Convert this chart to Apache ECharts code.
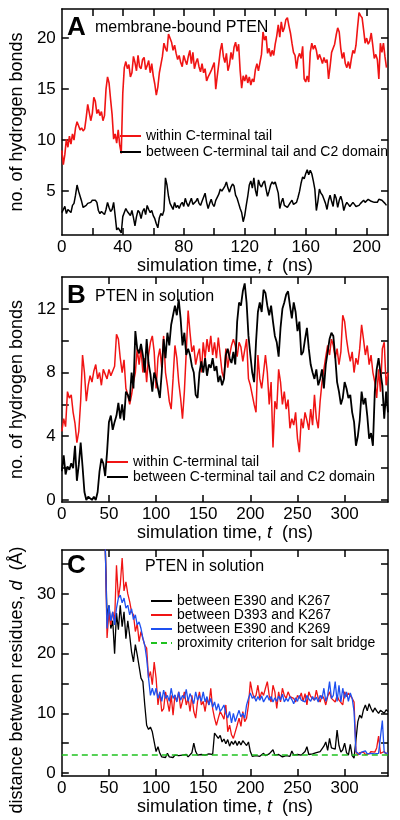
<!DOCTYPE html>
<html><head><meta charset="utf-8">
<script src="https://cdn.jsdelivr.net/npm/echarts@6/dist/echarts.min.js"></script>
<style>html,body{margin:0;padding:0;background:#fff}#c{width:400px;height:820px}</style>
</head><body><div id="c"></div>
<script>
// ---------- Panel A: membrane-bound PTEN (t = 0..213 ns, 1 ns step) ----------
var aStart = 0, aStep = 1;
var aWithin = [
9.0,7.6,8.6,10.1,9.3,10.4,9.6,10.6,10.0,11.2,
11.8,11.4,11.0,11.2,10.9,11.1,12.2,13.5,13.4,11.9,
12.6,14.2,13.8,12.6,13.0,12.4,12.8,11.9,12.4,15.0,
16.2,15.6,14.0,12.5,10.1,10.6,9.7,11.0,9.5,8.7,
14.6,17.1,17.7,17.0,17.4,16.2,16.6,18.2,17.6,16.8,
18.3,17.2,17.0,17.9,18.1,16.9,17.3,17.8,16.6,17.5,
16.3,15.5,14.4,15.2,16.6,17.4,18.2,19.5,19.0,18.7,
20.4,20.5,19.6,18.8,19.3,18.5,17.9,18.3,17.6,17.2,
18.3,17.8,17.4,18.2,18.8,17.5,18.6,17.0,17.6,18.0,
17.2,16.7,17.5,16.6,17.0,15.8,16.2,16.5,16.8,17.2,
17.6,15.0,16.3,17.5,18.8,19.5,18.2,17.6,18.5,16.8,
17.4,18.6,17.9,19.1,19.6,18.7,19.4,16.8,15.1,16.3,
15.8,16.4,15.6,16.2,15.4,16.0,15.7,16.9,17.5,16.8,
17.6,18.4,20.6,19.8,20.2,18.5,19.0,18.2,18.8,18.3,
19.4,20.2,21.3,20.1,21.6,20.6,21.0,21.8,22.0,21.2,
20.5,19.5,18.6,18.3,17.0,18.1,18.5,18.0,19.2,16.0,
15.7,16.3,15.7,18.6,19.5,18.9,19.3,18.8,17.9,18.4,
18.0,17.5,18.1,17.6,17.9,16.0,17.2,18.6,18.5,19.4,
20.3,21.0,20.6,19.0,18.0,18.6,17.5,17.1,17.7,17.0,
18.0,18.8,18.5,19.3,21.0,22.5,22.2,22.0,20.8,19.5,
20.0,19.4,19.7,20.5,19.3,18.0,18.4,17.9,16.0,19.5,
18.6,19.5,18.2,17.1];
var aBetween = [
2.9,3.0,3.5,2.8,3.2,3.3,2.9,3.6,3.8,4.6,
5.6,5.0,4.5,4.0,3.4,3.3,3.6,3.8,3.7,3.9,
4.1,4.0,4.1,3.9,3.1,2.8,3.0,2.9,2.7,3.2,
3.9,3.4,3.0,3.2,3.9,2.6,1.2,1.4,1.25,0.9,
2.5,2.9,3.3,3.0,2.8,2.6,3.1,2.4,1.6,2.5,
3.1,2.9,2.3,3.0,3.3,2.7,3.6,3.2,2.9,3.1,
2.6,2.3,1.8,1.4,2.4,2.8,2.6,3.1,6.3,5.6,
4.5,3.8,3.5,3.2,3.9,3.4,3.6,3.3,3.7,3.9,
3.5,4.3,3.8,3.5,3.9,4.3,3.7,3.6,4.0,4.3,
3.8,3.6,4.0,4.4,4.8,3.9,3.3,3.8,4.2,3.7,
3.5,4.1,4.2,4.7,5.2,5.0,5.1,5.5,5.9,5.3,
4.9,5.4,5.7,5.5,4.6,4.3,3.8,3.3,2.9,2.0,
2.6,3.6,4.5,5.6,6.0,5.3,6.3,5.1,4.5,6.1,
5.6,5.4,5.8,6.0,5.2,4.5,5.0,5.6,5.9,5.7,
5.9,6.0,4.8,3.3,3.9,4.3,3.6,3.6,3.4,3.3,
3.9,4.1,3.7,3.6,3.9,4.4,5.0,5.8,6.4,6.2,
6.7,7.1,6.6,7.05,6.7,6.0,5.2,3.1,4.0,5.2,
4.8,4.6,4.2,3.8,3.2,4.1,4.6,4.0,3.5,4.7,
4.3,3.4,4.1,4.5,4.0,3.1,3.6,3.9,3.7,3.5,
3.6,3.9,3.7,3.5,3.4,3.6,3.8,3.9,4.1,3.9,
3.9,4.2,4.3,4.0,4.1,3.9,4.0,3.9,4.2,4.3,
4.1,4.1,3.8,3.6];

// ---------- Panel B: PTEN in solution (t = 0..346 ns, 2 ns step) ----------
var bStart = 0, bStep = 2;
var bWithin = [
4.3,5.1,4.6,6.8,6.4,6.6,5.5,4.8,3.6,4.3,
6.2,9.1,8.0,6.2,7.2,7.8,7.4,8.1,8.5,7.6,
8.0,7.2,8.2,7.9,7.6,8.2,7.8,8.1,8.4,10.4,
10.1,8.9,8.0,8.8,7.0,6.6,6.0,6.6,7.4,8.0,
9.5,8.5,9.5,8.0,8.9,7.4,9.1,9.9,10.3,9.3,
7.0,8.9,9.5,8.3,10.3,8.0,7.2,6.2,5.7,7.6,
9.7,8.9,7.4,6.4,5.1,6.8,9.3,11.9,10.5,9.3,
9.7,8.5,9.1,9.5,8.0,9.9,8.9,10.1,9.3,10.3,
9.1,9.9,8.9,10.2,9.1,8.0,7.6,9.5,8.3,9.1,
9.7,10.1,9.7,9.0,9.9,9.6,8.7,9.4,10.1,7.6,
7.2,6.6,6.0,5.5,9.1,7.6,7.0,8.0,9.1,8.0,
6.0,7.4,3.3,6.2,5.7,8.2,7.4,6.0,6.8,5.7,
6.3,4.5,5.1,4.7,5.5,3.85,3.0,5.1,4.5,5.5,
5.0,4.4,5.7,4.7,6.6,5.1,4.5,6.2,7.4,8.2,
9.0,9.7,9.1,10.1,9.7,8.9,9.5,8.5,9.3,11.6,
11.2,10.1,9.3,8.7,9.3,8.0,8.9,8.5,9.5,11.0,
10.1,9.1,9.7,8.5,9.1,8.0,7.4,6.4,8.2,6.8,
9.5,9.9,7.2,8.0];
var bBetween = [
1.8,2.8,1.6,2.1,1.9,2.3,2.0,3.4,1.2,2.2,
3.6,2.1,0.5,0.0,0.2,0.3,0.0,0.2,0.0,0.5,
1.8,2.6,2.3,1.5,3.0,4.9,5.3,4.4,4.9,5.3,
6.1,5.1,6.0,5.0,6.8,6.6,6.2,8.0,7.0,10.6,
9.5,9.2,9.8,9.1,8.0,10.1,8.6,7.9,6.8,8.0,
7.6,7.0,6.4,8.0,10.1,8.9,10.5,9.7,11.0,11.6,
12.2,11.6,12.6,11.4,9.7,10.5,9.1,9.5,9.1,8.4,
8.0,6.6,6.4,8.0,8.7,8.0,8.9,7.8,8.5,8.3,
8.9,8.1,8.4,7.4,7.8,7.2,7.6,9.1,9.5,8.9,
8.6,9.3,8.5,11.2,12.4,12.2,13.1,13.6,12.4,10.3,
9.1,8.0,7.4,9.9,11.8,12.4,11.8,13.2,13.0,12.2,
11.6,12.2,11.2,10.3,9.9,9.0,10.8,12.0,12.4,12.9,
13.1,12.2,11.4,12.4,11.8,10.6,11.2,9.1,9.3,10.1,
10.8,9.5,8.5,8.0,7.6,8.2,7.2,7.6,8.2,7.0,
8.5,9.3,10.1,10.5,10.3,9.0,7.4,6.8,6.0,6.4,
7.4,7.0,6.4,6.6,5.5,4.9,3.4,4.0,5.0,6.8,
6.0,6.4,5.3,3.85,4.2,3.4,6.8,8.2,8.9,8.0,
7.2,5.1,6.8,5.5];

// ---------- Panel C: residue distances (t = 46..346 ns, 2 ns step) ----------
var cStart = 46, cStep = 2;
var cE390K267 = [
38.5,26.0,28.1,24.2,25.5,20.0,26.8,24.0,28.1,24.5,
27.0,22.5,25.5,23.0,20.3,18.6,21.5,19.8,19.7,15.9,
15.3,11.4,8.0,7.3,7.7,6.9,5.2,3.6,4.4,3.3,
2.7,2.9,2.6,3.3,2.7,2.8,2.6,3.0,2.7,2.9,
2.6,3.0,2.8,3.1,2.7,3.0,3.4,5.0,3.6,3.0,
2.8,3.1,2.8,3.0,2.9,3.2,3.0,3.1,6.7,6.9,
5.8,6.3,5.2,5.7,4.9,5.6,4.5,5.3,4.8,5.4,
4.6,5.3,4.7,5.4,5.0,4.6,5.2,3.6,2.8,3.0,
2.9,3.1,2.8,3.0,3.3,2.9,2.8,3.2,3.0,3.9,
3.0,2.8,3.1,2.9,2.7,3.0,2.9,3.2,2.8,3.7,
3.0,2.9,3.1,2.8,3.0,3.2,3.6,4.4,3.1,2.9,
3.2,3.0,3.4,3.2,3.6,3.3,4.5,5.2,3.8,5.8,
4.2,3.9,4.0,7.2,4.6,3.5,3.9,5.0,3.4,3.0,
4.8,2.9,2.5,2.6,8.6,9.7,9.2,10.6,11.4,10.4,
11.6,10.8,10.2,10.9,10.4,10.0,10.5,10.8,10.0,10.6,
10.3];
var cD393K267 = [
39.0,22.6,27.0,24.8,27.0,25.5,34.8,29.3,31.5,36.0,
30.5,32.0,30.0,28.7,27.0,26.5,23.7,25.0,22.0,23.7,
22.5,21.4,20.9,15.9,17.0,14.8,18.6,15.9,11.4,13.6,
10.3,10.8,13.6,12.0,10.3,13.0,9.7,13.0,12.0,13.6,
10.8,12.0,13.6,11.4,12.5,10.3,13.0,10.3,9.2,12.0,
13.6,11.4,12.0,10.3,12.5,11.4,14.2,10.8,9.2,8.0,
9.2,10.3,9.7,9.0,11.4,6.9,8.0,6.4,5.8,6.9,
8.0,9.2,7.8,10.3,8.6,9.2,11.4,15.3,13.6,12.5,
13.0,14.7,12.5,13.6,13.0,14.2,15.3,13.0,11.9,14.7,
13.6,10.8,13.6,11.9,14.2,13.0,12.5,13.6,12.8,13.0,
12.5,11.9,13.0,12.5,13.4,12.0,13.3,11.4,13.6,12.8,
13.0,12.2,13.9,12.5,11.9,13.0,12.5,11.4,12.8,13.6,
12.5,12.6,11.9,13.0,12.2,12.5,11.4,13.6,12.8,13.4,
13.2,12.5,11.9,3.6,3.0,3.4,3.2,3.5,3.1,3.4,
3.2,3.6,3.3,3.5,4.2,6.2,3.3,3.1,3.6,3.2,
3.3];
var cE390K269 = [
38.5,24.2,28.1,25.5,27.0,24.8,27.6,29.3,29.8,28.5,
29.3,27.6,28.1,26.5,27.5,25.7,26.5,24.8,25.3,24.2,
22.6,21.4,19.2,15.9,13.0,14.2,13.0,14.2,12.5,13.6,
12.0,13.9,12.5,13.0,12.0,14.2,12.5,13.1,11.9,13.6,
12.2,13.0,12.5,14.0,12.0,13.3,12.5,11.6,13.6,12.2,
13.0,12.0,13.6,11.9,12.8,11.4,12.5,11.0,11.9,10.5,
11.6,10.3,10.8,11.4,10.0,9.2,10.3,8.4,10.0,8.6,
9.6,10.5,9.4,10.0,9.2,11.4,12.5,13.4,12.5,12.9,
12.0,12.8,12.2,12.9,11.9,12.5,13.0,12.2,12.8,11.9,
12.6,12.0,12.9,12.2,13.2,11.9,12.5,12.0,12.8,12.3,
11.6,12.6,12.0,13.0,12.2,12.5,11.9,13.0,12.4,12.0,
12.8,12.2,12.7,11.9,13.0,12.4,14.2,12.0,13.0,15.3,
12.5,13.0,15.3,12.0,14.7,11.9,14.2,12.5,13.6,12.0,
13.4,12.5,10.3,3.6,3.3,3.1,3.5,3.4,3.7,3.2,
3.5,3.3,3.6,3.2,3.4,3.3,3.1,8.8,3.4,3.6,
3.3];
var cCriterion = 3.0;          // salt-bridge proximity criterion (Å)
var cCriterionSpan = [0, 346]; // time span (ns)

// ---------- axis ranges & ticks ----------
var aX = {min: 0, max: 214}, aY = {min: 0.7, max: 22.85};
var bX = {min: 0, max: 346}, bY = {min: -0.13, max: 14.0};
var cX = {min: 0, max: 346}, cY = {min: -0.5, max: 37.35};
var aXTicks = [20,40,60,80,100,120,140,160,180,200];
var aXLabels = [0,40,80,120,160,200];
var aYTicks = [5,10,15,20], aYLabels = [5,10,15,20];
var bXTicks = [50,100,150,200,250,300], bXLabels = [0,50,100,150,200,250,300];
var bYTicks = [0,2,4,6,8,10,12], bYLabels = [0,4,8,12];
var cXTicks = [50,100,150,200,250,300], cXLabels = [0,50,100,150,200,250,300];
var cYTicks = [0,5,10,15,20,25,30,35], cYLabels = [0,10,20,30];

var nameWithin = 'within C-terminal tail';
var nameBetween = 'between C-terminal tail and C2 domain';
var nameC1 = 'between E390 and K267', nameC2 = 'between D393 and K267',
    nameC3 = 'between E390 and K269', nameC4 = 'proximity criterion for salt bridge';

var RED = '#f01414', BLACK = '#000000', BLUE = '#1e50f0', GREEN = '#1fc21f';
var FONT = '"Liberation Sans", Arial, Helvetica, sans-serif';

function pairs(t0, step, vals) { return vals.map(function (v, i) { return [t0 + i * step, v]; }); }

var grids = [
  {left: 53, right: 12, top: 9, height: 226},
  {left: 53, right: 12, top: 277, height: 225},
  {left: 53, right: 12, top: 550, height: 226}
];

var lineAxis = {show: true, onZero: false, lineStyle: {color: '#000', width: 1.5}};
function tick(vals) { return {show: true, inside: true, length: 7, customValues: vals, lineStyle: {color: '#000', width: 1.5}}; }
function lab(vals, m) { return {show: true, customValues: vals, color: '#000', fontSize: 17, fontFamily: FONT, margin: m}; }
var nameStyle = {color: '#000', fontSize: 18, fontFamily: FONT, rich: {i: {fontStyle: 'italic', fontSize: 18, fontFamily: FONT, color: '#000'}}};

function xPair(g, rng, ticks, labels, gap) {
  return [
    {type: 'value', gridIndex: g, min: rng.min, max: rng.max, position: 'bottom', axisLine: lineAxis,
     axisTick: tick(ticks), axisLabel: lab(labels, 4), splitLine: {show: false},
     name: 'simulation time, {i|t}  (ns)', nameLocation: 'middle', nameGap: gap, nameTextStyle: nameStyle},
    {type: 'value', gridIndex: g, min: rng.min, max: rng.max, position: 'top', axisLine: lineAxis,
     axisTick: tick(ticks), axisLabel: {show: false}, splitLine: {show: false}}
  ];
}
function yPair(g, rng, ticks, labels, name, gap, pad) {
  return [
    {type: 'value', gridIndex: g, min: rng.min, max: rng.max, position: 'left', axisLine: lineAxis,
     axisTick: tick(ticks), axisLabel: lab(labels, 6), splitLine: {show: false},
     name: name, nameLocation: 'middle', nameGap: gap,
     nameTextStyle: Object.assign({}, nameStyle, {padding: pad || 0})},
    {type: 'value', gridIndex: g, min: rng.min, max: rng.max, position: 'right', axisLine: lineAxis,
     axisTick: tick(ticks), axisLabel: {show: false}, splitLine: {show: false}}
  ];
}

var xAxes = [].concat(xPair(0, aX, aXTicks, aXLabels, 18), xPair(1, bX, bXTicks, bXLabels, 20), xPair(2, cX, cXTicks, cXLabels, 19));
var yAxes = [].concat(
  yPair(0, aY, aYTicks, aYLabels, 'no. of hydrogen bonds', 24),
  yPair(1, bY, bYTicks, bYLabels, 'no. of hydrogen bonds', 24),
  yPair(2, cY, cYTicks, cYLabels, 'distance between residues, {i|d}  (Å)', 24, [0, 34, 0, 0])
);

function ln(name, xi, yi, data, color, width, dashed) {
  return {name: name, type: 'line', xAxisIndex: xi, yAxisIndex: yi, data: data,
    showSymbol: false, symbol: 'none', animation: false, clip: true,
    lineStyle: {color: color, width: width, type: dashed ? [6, 4] : 'solid'},
    itemStyle: {color: color}, emphasis: {disabled: true}};
}

var series = [
  ln(nameWithin, 0, 0, pairs(aStart, aStep, aWithin), RED, 1.6),
  ln(nameBetween, 0, 0, pairs(aStart, aStep, aBetween), BLACK, 1.5),
  ln(nameWithin, 2, 2, pairs(bStart, bStep, bWithin), RED, 1.5),
  ln(nameBetween, 2, 2, pairs(bStart, bStep, bBetween), BLACK, 1.8),
  ln(nameC1, 4, 4, pairs(cStart, cStep, cE390K267), BLACK, 1.3),
  ln(nameC2, 4, 4, pairs(cStart, cStep, cD393K267), RED, 1.3),
  ln(nameC3, 4, 4, pairs(cStart, cStep, cE390K269), BLUE, 1.3),
  ln(nameC4, 4, 4, [[cCriterionSpan[0], cCriterion], [cCriterionSpan[1], cCriterion]], GREEN, 1.5, true)
];

function legend(left, top, names, ih, gap) {
  return {left: left, top: top, orient: 'vertical', data: names, itemWidth: 21, itemHeight: ih, itemGap: gap,
    padding: 0, selectedMode: false,
    itemStyle: {opacity: 0, borderWidth: 0},
    lineStyle: {width: 2},
    textStyle: {color: '#000', fontSize: 14, fontFamily: FONT}};
}

var titles = [
  {text: 'A', left: 67, top: 15, padding: 0, textStyle: {fontSize: 26, fontWeight: 'bold', fontFamily: FONT, color: '#000'}},
  {text: 'membrane-bound PTEN', left: 95, top: 20, padding: 0, textStyle: {fontSize: 16, fontWeight: 'normal', fontFamily: FONT, color: '#000'}},
  {text: 'B', left: 67, top: 283, padding: 0, textStyle: {fontSize: 26, fontWeight: 'bold', fontFamily: FONT, color: '#000'}},
  {text: 'PTEN in solution', left: 95, top: 289, padding: 0, textStyle: {fontSize: 16, fontWeight: 'normal', fontFamily: FONT, color: '#000'}},
  {text: 'C', left: 67, top: 553, padding: 0, textStyle: {fontSize: 26, fontWeight: 'bold', fontFamily: FONT, color: '#000'}},
  {text: 'PTEN in solution', left: 145, top: 559, padding: 0, textStyle: {fontSize: 16, fontWeight: 'normal', fontFamily: FONT, color: '#000'}}
];

var chart = echarts.init(document.getElementById('c'), null, {renderer: 'canvas'});
chart.setOption({
  backgroundColor: '#ffffff',
  animation: false,
  title: titles,
  grid: grids,
  xAxis: xAxes,
  yAxis: yAxes,
  legend: [
    legend(119, 129, [nameWithin, nameBetween], 14, 2),
    legend(106, 455, [nameWithin, nameBetween], 14, 1),
    legend(150, 594, [nameC1, nameC2, nameC3, nameC4], 13, 0)
  ],
  series: series
});
</script>
</body></html>
